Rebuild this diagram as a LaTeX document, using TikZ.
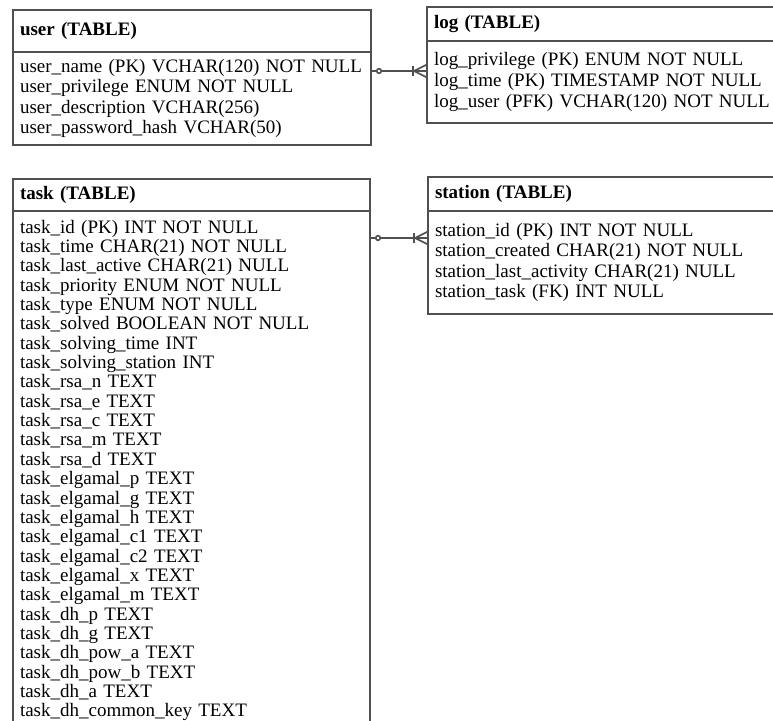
\documentclass[tikz,border=0pt]{standalone}
\usepackage{fontspec}
\setmainfont{Liberation Serif}
\usetikzlibrary{positioning,calc}
\definecolor{edgegray}{HTML}{505050}

\begin{document}
\begin{tikzpicture}[x=1pt,y=-1pt,
      tabhead/.style={draw=edgegray,line width=2.6pt,outer sep=0pt,anchor=north west,align=left,
        text width=#1,inner xsep=7pt,font=\fontsize{19}{20.6}\selectfont\bfseries},
      tabbody/.style={draw=edgegray,line width=2.6pt,outer sep=0pt,align=left,
        text width=#1,inner xsep=7pt,inner ysep=0pt,font=\fontsize{19}{20.6}\selectfont},
      link/.style={draw=edgegray,line width=1.6pt}
    ]
      \path[use as bounding box,clip] (0,0) rectangle (773,720);
      % tables
      \node[tabhead=344pt,minimum height=42pt] (userhead) at (13,10) {user (TABLE)};
      \node[tabbody=344pt,minimum height=93pt,below=0pt of userhead] (userbody)
        {user\_name (PK) VCHAR(120) NOT NULL\\
         user\_privilege ENUM NOT NULL\\
         user\_description VCHAR(256)\\
         user\_password\_hash VCHAR(50)};
      \node[tabhead=337pt,minimum height=34pt] (loghead) at (427,7) {log (TABLE)};
      \node[tabbody=337pt,minimum height=82pt,below=0pt of loghead] (logbody)
        {log\_privilege (PK) ENUM NOT NULL\\
         log\_time (PK) TIMESTAMP NOT NULL\\
         log\_user (PFK) VCHAR(120) NOT NULL};
      \node[tabhead=343pt,minimum height=32pt] (taskhead) at (13,179) {task (TABLE)};
      \node[tabbody=343pt,minimum height=540pt,below=0pt of taskhead,
        font=\fontsize{19}{19.35}\selectfont] (taskbody)
        {task\_id (PK) INT NOT NULL\\
         task\_time CHAR(21) NOT NULL\\
         task\_last\_active CHAR(21) NULL\\
         task\_priority ENUM NOT NULL\\
         task\_type ENUM NOT NULL\\
         task\_solved BOOLEAN NOT NULL\\
         task\_solving\_time INT\\
         task\_solving\_station INT\\
         task\_rsa\_n TEXT\\
         task\_rsa\_e TEXT\\
         task\_rsa\_c TEXT\\
         task\_rsa\_m TEXT\\
         task\_rsa\_d TEXT\\
         task\_elgamal\_p TEXT\\
         task\_elgamal\_g TEXT\\
         task\_elgamal\_h TEXT\\
         task\_elgamal\_c1 TEXT\\
         task\_elgamal\_c2 TEXT\\
         task\_elgamal\_x TEXT\\
         task\_elgamal\_m TEXT\\
         task\_dh\_p TEXT\\
         task\_dh\_g TEXT\\
         task\_dh\_pow\_a TEXT\\
         task\_dh\_pow\_b TEXT\\
         task\_dh\_a TEXT\\
         task\_dh\_common\_key TEXT\\
         \strut};
      \node[tabhead=336pt,minimum height=34pt] (stationhead) at (428,177) {station (TABLE)};
      \node[tabbody=336pt,minimum height=103pt,below=0pt of stationhead] (stationbody)
        {station\_id (PK) INT NOT NULL\\
         station\_created CHAR(21) NOT NULL\\
         station\_last\_activity CHAR(21) NULL\\
         station\_task (FK) INT NULL};
      % relations
      \coordinate (userlink) at ($(userbody.north east)+(0,19)$);
      \coordinate (loglink) at (userlink -| logbody.west);
      \coordinate (tasklink) at ($(taskbody.north east)+(0,27)$);
      \coordinate (stationlink) at (tasklink -| stationbody.west);
      \foreach \from/\to in {userlink/loglink,tasklink/stationlink}{
        \draw[link] (\from) -- (\to);
        \draw[link,fill=white] ($(\from)+(8,0)$) circle (2.3);
        \draw[link] ($(\to)+(-14,-5)$) -- ++(0,10);
        \draw[link] ($(\to)+(0,-6.5)$) -- ($(\to)+(-13,0)$) -- ($(\to)+(0,6.5)$);
      }
    \end{tikzpicture}
\end{document}
